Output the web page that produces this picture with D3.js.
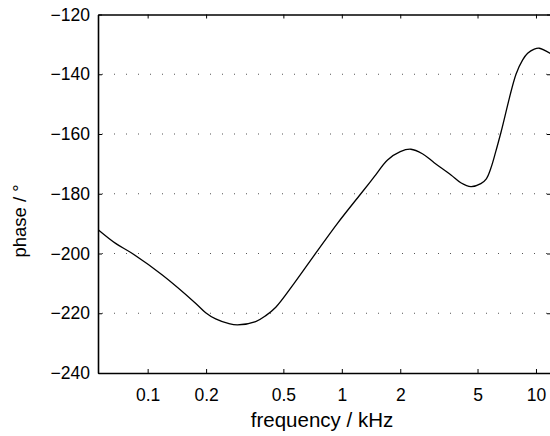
<!DOCTYPE html>
<html>
<head>
<meta charset="UTF-8">
<title>phase</title>
<style>
body {
    margin: 0;
    background: #fff;
}

svg text {
    font-family: "Liberation Sans", Arial, sans-serif;
    fill: #000;
}

.tick text {
    font-size: 17.5px;
}

.grid line {
    stroke: #555;
    stroke-dasharray: 1 11;
}

.phase-path {
    fill: none;
    stroke: #000;
    stroke-width: 1.3px;
}
</style>
</head>
<body>
<div class="chart"></div>
<script src="https://cdn.jsdelivr.net/npm/d3@7"></script>
<script>

// frequency in kHz, phase in degrees
const freq = [0.0558, 0.0684, 0.0834, 0.119, 0.177, 0.199, 0.224, 0.26, 0.29, 0.36, 0.406, 0.457,
    0.568, 0.734, 0.95, 1.253, 1.47, 1.72, 2.0, 2.27, 2.6, 2.99, 3.65, 4.1, 4.62, 5.2, 5.55,
    5.86, 6.2, 6.6, 7.89, 8.54, 9.06, 9.8, 10.4, 11.95];
const phase = [-192.1, -196.6, -200, -207.2, -216.7, -219.8, -221.9, -223.4, -223.9, -222.8, -220.8, -218.0,
    -210.0, -199.9, -189.9, -180.0, -174.3, -168.7, -165.9, -165.1, -166.6, -169.6, -173.7, -176.3, -177.6, -176.6, -175.0,
    -171.4, -166.0, -159.5, -140, -135.2, -133.0, -131.6, -131.3, -133.2];

const xTicks = [0.1, 0.2, 0.5, 1, 2, 5, 10];
const yTicks = [-240, -220, -200, -180, -160, -140, -120];

let width = 550, height = 436,
    mLeft = 98, mRight = 551, mTop = 14.5, mBottom = 373;

let svg = d3.select('.chart').append('svg')
    .attr('width', width)
    .attr('height', height);

let xScale = d3.scaleLog()
    .domain([0.0555, 11.95])
    .range([mLeft, mRight]);

let yScale = d3.scaleLinear()
    .domain([-240, -120])
    .range([mBottom, mTop]);

// dotted horizontal grid
svg.append('g')
    .attr('class', 'grid')
    .selectAll('line')
    .data(yTicks.filter(d => d > -240 && d < -120))
    .enter()
    .append('line')
    .attr('x1', mLeft + 4)
    .attr('x2', mRight)
    .attr('y1', d => yScale(d))
    .attr('y2', d => yScale(d));

const styleAxis = (g) => {
    g.select('.domain').attr('stroke', '#000').attr('stroke-width', 1.6);
    g.selectAll('.tick line').attr('stroke', '#000').attr('stroke-width', 1);
};

let xAxis = d3.axisBottom(xScale)
    .tickValues(xTicks)
    .tickFormat(d3.format('~g'))
    .tickSizeInner(-4)
    .tickSizeOuter(0)
    .tickPadding(16);

svg.append('g')
    .attr('transform', 'translate(0,' + mBottom + ')')
    .call(xAxis)
    .call(styleAxis);

let xTop = d3.axisTop(xScale)
    .tickValues(xTicks)
    .tickFormat('')
    .tickSizeInner(-4)
    .tickSizeOuter(0);

svg.append('g')
    .attr('transform', 'translate(0,' + mTop + ')')
    .call(xTop)
    .call(styleAxis);

let yAxis = d3.axisLeft(yScale)
    .tickValues(yTicks)
    .tickFormat(d => d3.format('d')(d).replace('-', '\u2212'))
    .tickSizeInner(-4)
    .tickSizeOuter(0)
    .tickPadding(8);

svg.append('g')
    .attr('transform', 'translate(' + mLeft + ',0)')
    .call(yAxis)
    .call(styleAxis);

let yRight = d3.axisRight(yScale)
    .tickValues(yTicks)
    .tickFormat('')
    .tickSizeInner(-4)
    .tickSizeOuter(0);

svg.append('g')
    .attr('transform', 'translate(' + mRight + ',0)')
    .call(yRight)
    .call(styleAxis);

let line = d3.line()
    .x((d, i) => xScale(freq[i]))
    .y(d => yScale(d))
    .curve(d3.curveCatmullRom);

svg.append('path')
    .attr('class', 'phase-path')
    .attr('d', line(phase));

svg.append('text')
    .attr('x', 322)
    .attr('y', 427)
    .attr('text-anchor', 'middle')
    .style('font-size', '20.5px')
    .text('frequency / kHz');

svg.append('text')
    .attr('transform', 'translate(26,221) rotate(-90)')
    .attr('text-anchor', 'middle')
    .style('font-size', '18.5px')
    .text('phase / °');

</script>
</body>
</html>
